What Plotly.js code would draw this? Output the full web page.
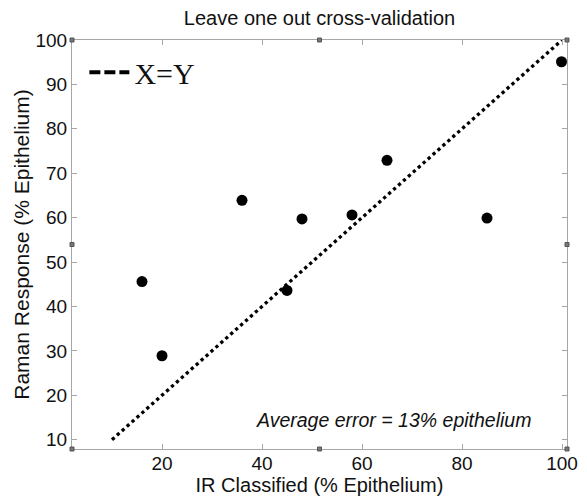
<!DOCTYPE html>
<html>
<head>
<meta charset="utf-8">
<script src="https://cdn.plot.ly/plotly-3.0.1.min.js"></script>
<style>html,body{margin:0;padding:0;background:#fff;}#chart{width:587px;height:496px;}</style>
</head>
<body>
<div id="chart"></div>
<script>
// Data
var irClassified = [16, 20, 36, 45, 48, 58, 65, 85, 99.9];
var ramanResponse = [45.6, 28.9, 63.9, 43.6, 59.7, 60.6, 72.9, 59.9, 95.1];
var identityX = [10, 100];
var identityY = [10, 100];
var xTicks = [20, 40, 60, 80, 100];
var yTicks = [10, 20, 30, 40, 50, 60, 70, 80, 90, 100];
var titleText = 'Leave one out cross-validation';
var xTitle = 'IR Classified (% Epithelium)';
var yTitle = 'Raman Response (% Epithelium)';
var noteText = 'Average error = 13% epithelium';
var legendName = 'X=Y';

var axisGrey = '#a6a6a6';
var font = 'Arial, "Liberation Sans", sans-serif';

var traces = [
  {x: identityX, y: identityY, mode: 'lines', type: 'scatter', showlegend: false,
   line: {color: '#000', width: 3.3, dash: 'dot'}, hoverinfo: 'skip'},
  {x: irClassified, y: ramanResponse, mode: 'markers', type: 'scatter', showlegend: false,
   marker: {color: '#000', size: 11, symbol: 'circle'}},
  {x: [null], y: [null], mode: 'lines', type: 'scatter', name: legendName, showlegend: true,
   line: {color: '#000', width: 4, dash: '11px,4px'}}
];

function sq(px, py) {
  return {type: 'rect', xref: 'paper', yref: 'paper',
    xsizemode: 'pixel', ysizemode: 'pixel', xanchor: px, yanchor: py,
    x0: -2, x1: 2, y0: -2, y1: 2, line: {color: '#555', width: 1}, fillcolor: '#777'};
}

var layout = {
  width: 587, height: 496,
  margin: {l: 72, r: 20, t: 40, b: 47, pad: 0},
  paper_bgcolor: '#fff', plot_bgcolor: '#fff',
  font: {family: font, color: '#111'},
  title: {text: titleText, font: {family: font, size: 20, color: '#111'},
          x: 0.5, xref: 'paper', xanchor: 'center', y: 0.963, yref: 'container', yanchor: 'middle'},
  xaxis: {
    range: [2, 101], tickvals: xTicks, ticktext: xTicks.map(String),
    showgrid: false, zeroline: false, showline: true, mirror: 'ticks',
    linecolor: axisGrey, linewidth: 1, ticks: 'inside', ticklen: 5, tickcolor: axisGrey,
    tickfont: {family: font, size: 19, color: '#111'}, ticklabelstandoff: -3,
    title: {text: xTitle, font: {family: font, size: 20, color: '#111'}, standoff: 2}
  },
  yaxis: {
    range: [7.9, 100], tickvals: yTicks, ticktext: yTicks.map(String),
    showgrid: false, zeroline: false, showline: true, mirror: 'ticks',
    linecolor: axisGrey, linewidth: 1, ticks: 'inside', ticklen: 5, tickcolor: axisGrey,
    tickfont: {family: font, size: 19, color: '#111'},
    title: {text: yTitle, font: {family: font, size: 21, color: '#111'}, standoff: 0}
  },
  showlegend: true,
  legend: {x: 0.025, y: 0.985, xanchor: 'left', yanchor: 'top', bgcolor: 'rgba(0,0,0,0)',
           font: {family: '"Liberation Serif", "Times New Roman", serif', size: 30, color: '#111'},
           itemwidth: 40, tracegroupgap: 0},
  annotations: [
    {x: 0.65, y: 0.072, xref: 'paper', yref: 'paper', text: '<i>' + noteText + '</i>', showarrow: false,
     font: {family: font, size: 19.5, color: '#111'}, xanchor: 'center', yanchor: 'middle'}
  ],
  shapes: [sq(0.5, 1), sq(0.5, 0), sq(0, 0.5), sq(1, 0.5), sq(0, 0), sq(1, 0), sq(0, 1), sq(1, 1)]
};

Plotly.newPlot('chart', traces, layout, {displayModeBar: false, staticPlot: true});
</script>
</body>
</html>
